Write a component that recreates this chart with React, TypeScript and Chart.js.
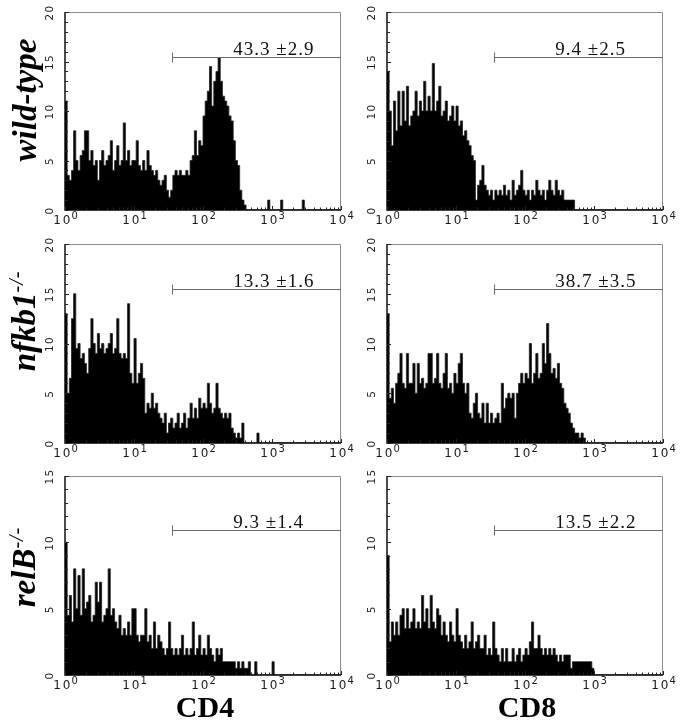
import React, { useEffect, useRef } from "react";
import { Chart, registerables } from "chart.js";

Chart.register(...registerables);

// ---------------- DATA ----------------
// Histogram channels: 32 channels per decade, 4 decades (10^0 .. 10^4), counts per channel.
const CHANNELS_PER_DECADE = 32;
const DECADES = 4;

const wildTypeCD4 = [
  11, 3.5, 3, 4, 8, 5, 4, 5.5, 6, 8, 8, 5, 6, 4.5, 5, 3, 5, 6, 4.5, 5, 5.5, 7, 4, 5, 6.5, 4.5, 5, 8.8, 5, 6, 4.5, 5,
  5, 7, 4.5, 4, 5, 4, 6, 4.5, 4, 3.5, 4, 3, 2.5, 3, 3.5, 2, 1.3, 2, 3.5, 4, 3.5, 4, 3.5, 3.5, 4, 3.5, 5, 5.5, 8, 5.5, 7, 6.5,
  9.5, 11, 12, 14.5, 10.5, 13, 14, 15.4, 13, 11.5, 11, 10.5, 9.5, 9, 7, 5, 4.5, 2, 1, 0.5, 0, 0, 0, 0, 0, 0, 0, 0, 0, 0, 1, 0,
  0, 0, 0, 0, 1, 0, 0, 0, 0, 0, 0, 0, 0, 0, 1, 0, 0, 0, 0, 0, 0, 0, 0, 0, 0, 0, 0, 0, 0, 0, 0, 0,
];
const wildTypeCD8 = [
  14, 10, 6.5, 11, 8, 12, 8.5, 12, 9, 12.5, 8.5, 9.5, 10, 12, 9.5, 11, 10, 13, 10, 11.5, 10, 14.8, 10, 11, 12.5, 9.5, 10, 11, 9, 9.5, 10.5, 9,
  10.5, 8.5, 9, 7.5, 8, 7, 6.5, 5.5, 5, 1, 2.5, 3, 4.5, 2.5, 2, 1.5, 2, 1, 2, 1.5, 2, 1.5, 2.5, 1.5, 2, 1, 3, 1.5, 2, 2.5, 4, 2,
  1.5, 2, 1, 2, 1.5, 3, 2, 1.5, 2, 1, 2, 3, 2, 1.5, 3, 2, 1.5, 2, 1, 1, 1, 1, 1, 0, 0, 0, 0, 0, 0, 0, 0, 0,
  0, 0, 0, 0, 0, 0, 0, 0, 0, 0, 0, 0, 0, 0, 0, 0, 0, 0, 0, 0, 0, 0, 0, 0, 0, 0, 0, 0, 0, 0, 0, 0,
];
const nfkb1CD4 = [
  13, 5, 6.5, 12.5, 15, 9.5, 10, 8.5, 9, 8, 7, 9.5, 12.5, 10, 9, 11, 9.5, 10, 9, 9.5, 10, 11, 9, 9.5, 12.5, 9, 8.5, 9, 8.5, 14, 7, 6,
  10.5, 6, 7, 8, 6.5, 3, 4, 3.5, 5, 3.5, 4, 3, 2.5, 2, 3, 1, 2, 2.5, 1.5, 2, 3, 1.5, 2, 3, 1.5, 2.5, 4, 2.5, 3.5, 2.5, 4.5, 3.5,
  4, 3.5, 6, 4, 3, 3.5, 6, 3.5, 3, 2.5, 3, 2.5, 3, 1.5, 1, 0.5, 1, 0.5, 2, 0, 0, 0, 0, 0, 0, 1, 0, 0, 0, 0, 0, 0,
  0, 0, 0, 0, 0, 0, 0, 0, 0, 0, 0, 0, 0, 0, 0, 0, 0, 0, 0, 0, 0, 0, 0, 0, 0, 0, 0, 0, 0, 0, 0, 0,
];
const nfkb1CD8 = [
  13, 4.5, 5.5, 4, 6, 7, 9, 6, 5.5, 9, 6, 6, 8, 5, 8, 6, 6.5, 5.5, 6, 9, 9, 6, 6.5, 9, 6, 5.5, 7, 9, 5.5, 6, 5, 7,
  6, 8, 9, 6, 5, 6, 3, 2.5, 4, 5, 3, 2.5, 4, 2, 4, 2, 3, 2, 2.5, 3, 2, 6, 3.5, 4.5, 5, 4.5, 5, 2.5, 5, 6, 7, 6,
  7, 6.5, 10, 6, 7, 9, 6.5, 7, 10, 8, 12, 9, 7, 7.5, 6.5, 8, 6, 5.5, 4, 3.5, 3, 2, 1.5, 1, 1, 0.5, 1, 0.5, 0, 0, 0, 0,
  0, 0, 0, 0, 0, 0, 0, 0, 0, 0, 0, 0, 0, 0, 0, 0, 0, 0, 0, 0, 0, 0, 0, 0, 0, 0, 0, 0, 0, 0, 0, 0,
];
const relBCD4 = [
  10, 4.5, 6, 4, 8, 5, 7.5, 4.5, 8, 5, 5.5, 6, 4, 4.5, 7, 5.5, 7, 4, 4.5, 5, 8, 4.5, 5, 4, 3.5, 4.5, 3, 3.5, 3, 4, 3, 5,
  5, 3, 2.5, 3, 3, 5, 2.5, 3, 2, 4, 2, 3, 2.5, 2, 1.5, 2, 4, 2, 1.5, 2, 1.5, 2, 3, 1.5, 2, 1.5, 2, 4, 1.5, 2, 3, 1.5,
  2, 1.5, 3, 2, 1.5, 1, 2, 1.5, 2, 1, 1, 1, 1, 1, 1, 0.5, 1, 0.5, 1, 0.5, 0.5, 1, 0, 0, 1, 0, 0, 0, 0, 0, 0, 0,
  1, 0, 0, 0, 0, 0, 0, 0, 0, 0, 0, 0, 0, 0, 0, 0, 0, 0, 0, 0, 0, 0, 0, 0, 0, 0, 0, 0, 0, 0, 0, 0,
];
const relBCD8 = [
  9, 2.5, 4, 3, 4, 3, 4.5, 5, 3.5, 5, 3.5, 4, 5, 3.5, 4, 3.5, 6, 4, 5, 3.5, 6, 4, 3.5, 5, 4.5, 3, 4, 3, 2.5, 4, 3, 2.5,
  5, 3, 2.5, 2, 3, 2, 2.5, 4, 2, 2.5, 3, 2, 2, 3, 1.5, 2, 1.5, 4, 2, 1.5, 1, 2, 1, 2, 1, 1, 2, 1, 1.5, 2, 1, 1.5,
  2, 1.5, 2.5, 4, 2, 2, 3, 2, 1.5, 2, 1.5, 2, 1.5, 2, 1.5, 1, 1.5, 1, 1.5, 1.5, 1.5, 0.5, 1, 1, 1, 1, 1, 1, 1, 1, 1, 0.5,
  0, 0, 0, 0, 0, 0, 0, 0, 0, 0, 0, 0, 0, 0, 0, 0, 0, 0, 0, 0, 0, 0, 0, 0, 0, 0, 0, 0, 0, 0, 0, 0,
];

const xTickExponents = ["0", "1", "2", "3", "4"];
const yTicksTop = [0, 5, 10, 15, 20];
const yTicksBottom = [0, 5, 10, 15];

const gateLabels = ["43.3 ±2.9", "9.4 ±2.5", "13.3 ±1.6", "38.7 ±3.5", "9.3 ±1.4", "13.5 ±2.2"];
const gateStartChannel = 35.5; // fluorescence value where the gate marker starts
const gateLevelTop = 15.5;
const gateLevelBottom = 10.9;

const rowLabels = ["wild-type", "nfkb1", "relB"];
const rowSuperscripts = ["", "-/-", "-/-"];
const columnLabels = ["CD4", "CD8"];

// ---------------- LAYOUT ----------------
const COL_LEFT = [65, 387];
const PLOT_W = 276;
const ROW_TOP = [12, 244, 476];
const ROW_H = [198, 199, 199];
const PAD = { left: 50, right: 16, top: 12, bottom: 26 };

type PanelSpec = {
  values: number[];
  yTicks: number[];
  gate: string;
  gateLevel: number;
  left: number;
  top: number;
  height: number;
};

const panelValues = [wildTypeCD4, wildTypeCD8, nfkb1CD4, nfkb1CD8, relBCD4, relBCD8];

const panels: PanelSpec[] = panelValues.map((values, i) => {
  const row = Math.floor(i / 2);
  const col = i % 2;
  return {
    values,
    yTicks: row === 2 ? yTicksBottom : yTicksTop,
    gate: gateLabels[i],
    gateLevel: row === 2 ? gateLevelBottom : gateLevelTop,
    left: COL_LEFT[col],
    top: ROW_TOP[row],
    height: ROW_H[row],
  };
});

const SANS = '"DejaVu Sans", "Liberation Sans", sans-serif';

function Panel({ spec }: { spec: PanelSpec }) {
  const ref = useRef<HTMLCanvasElement | null>(null);
  const W = PLOT_W + PAD.left + PAD.right;
  const H = spec.height + PAD.top + PAD.bottom;

  useEffect(() => {
    const yMax = spec.yTicks[spec.yTicks.length - 1];
    const points = spec.values.map((v, i) => ({ x: i / CHANNELS_PER_DECADE, y: v }));
    points.push({ x: DECADES, y: 0 });

    const axesPlugin = {
      id: "facsAxes",
      afterDatasetsDraw(chart: any) {
        const ctx: CanvasRenderingContext2D = chart.ctx;
        const ca = chart.chartArea;
        const xs = chart.scales.x;
        const ys = chart.scales.y;
        ctx.save();
        // top + right frame (grey, thin)
        ctx.strokeStyle = "#8c8c8c";
        ctx.lineWidth = 1;
        ctx.beginPath();
        ctx.moveTo(ca.left, ca.top + 0.5);
        ctx.lineTo(ca.right - 0.5, ca.top + 0.5);
        ctx.lineTo(ca.right - 0.5, ca.bottom);
        ctx.stroke();
        // left + bottom axes (black)
        ctx.strokeStyle = "#000";
        ctx.lineWidth = 1.4;
        ctx.beginPath();
        ctx.moveTo(ca.left, ca.top);
        ctx.lineTo(ca.left, ca.bottom);
        ctx.lineTo(ca.right, ca.bottom);
        ctx.stroke();

        // y ticks (inward)
        ctx.lineWidth = 1;
        ctx.strokeStyle = "#222";
        for (let v = 0; v <= yMax; v++) {
          const y = Math.round(ys.getPixelForValue(v)) + 0.5;
          const len = v % 5 === 0 ? 4 : 3;
          ctx.beginPath();
          ctx.moveTo(ca.left, y);
          ctx.lineTo(ca.left + len, y);
          ctx.stroke();
        }
        // x ticks (inward, log minor)
        for (let d = 0; d <= DECADES; d++) {
          const xm = Math.round(xs.getPixelForValue(d)) + 0.5;
          ctx.beginPath();
          ctx.moveTo(xm, ca.bottom);
          ctx.lineTo(xm, ca.bottom - 4);
          ctx.stroke();
          if (d < DECADES) {
            for (let k = 2; k <= 9; k++) {
              const x = Math.round(xs.getPixelForValue(d + Math.log10(k))) + 0.5;
              ctx.beginPath();
              ctx.moveTo(x, ca.bottom);
              ctx.lineTo(x, ca.bottom - 2.5);
              ctx.stroke();
            }
          }
        }

        // y labels (rotated)
        ctx.fillStyle = "#1a1a1a";
        ctx.font = "10.5px " + SANS;
        (ctx as any).letterSpacing = "1.2px";
        ctx.textAlign = "center";
        ctx.textBaseline = "alphabetic";
        spec.yTicks.forEach((t) => {
          const y = ys.getPixelForValue(t);
          ctx.save();
          ctx.translate(ca.left - 12, y + 0.6);
          ctx.rotate(-Math.PI / 2);
          ctx.fillText(String(t), 0, 0);
          ctx.restore();
        });

        // x labels 10^n
        ctx.textAlign = "left";
        xTickExponents.forEach((e, i) => {
          const x = xs.getPixelForValue(i);
          ctx.font = "12px " + SANS;
          (ctx as any).letterSpacing = "2px";
          const wb = ctx.measureText("10").width;
          ctx.font = "10px " + SANS;
          (ctx as any).letterSpacing = "0px";
          const we = ctx.measureText(e).width;
          const x0 = x - (wb + we) / 2 + 1;
          ctx.font = "12px " + SANS;
          (ctx as any).letterSpacing = "2px";
          ctx.fillText("10", x0, ca.bottom + 14);
          ctx.font = "10px " + SANS;
          (ctx as any).letterSpacing = "0px";
          ctx.fillText(e, x0 + wb - 1, ca.bottom + 9);
        });

        // gate marker
        const gy = Math.round(ys.getPixelForValue(spec.gateLevel)) + 0.5;
        const gx0 = Math.round(xs.getPixelForValue(Math.log10(gateStartChannel))) + 0.5;
        ctx.strokeStyle = "#6a6a6a";
        ctx.lineWidth = 1;
        ctx.beginPath();
        ctx.moveTo(gx0, gy);
        ctx.lineTo(ca.right, gy);
        ctx.moveTo(gx0, gy - 5);
        ctx.lineTo(gx0, gy + 5);
        ctx.stroke();
        ctx.fillStyle = "#111";
        ctx.font = '19px "Liberation Serif", "Times New Roman", serif';
        (ctx as any).letterSpacing = "1px";
        ctx.textAlign = "left";
        ctx.fillText(spec.gate, xs.getPixelForValue(2.44), gy - 3);
        ctx.restore();
      },
    };

    const chart = new Chart(ref.current as HTMLCanvasElement, {
      type: "line",
      data: {
        datasets: [
          {
            data: points,
            stepped: true,
            fill: "origin",
            backgroundColor: "#000",
            borderColor: "#222",
            borderWidth: 0.8,
            pointRadius: 0,
          } as any,
        ],
      },
      options: {
        responsive: false,
        animation: false,
        events: [],
        layout: { padding: PAD },
        plugins: { legend: { display: false }, tooltip: { enabled: false } },
        scales: {
          x: { type: "linear", min: 0, max: DECADES, display: false },
          y: { type: "linear", min: 0, max: yMax, display: false },
        },
      },
      plugins: [axesPlugin],
    });
    return () => chart.destroy();
  }, []);

  return (
    <canvas
      ref={ref}
      width={W}
      height={H}
      style={{ position: "absolute", left: spec.left - PAD.left, top: spec.top - PAD.top, width: W, height: H }}
    />
  );
}

const ROW_LABEL_POS = [
  { cx: 25, cy: 100 },
  { cx: 24, cy: 321 },
  { cx: 24, cy: 567 },
];

export default function App() {
  useEffect(() => {
    document.body.style.margin = "0";
  }, []);
  return (
    <div style={{ position: "relative", width: 680, height: 720, background: "#fff", overflow: "hidden" }}>
      {panels.map((p, i) => (
        <Panel key={i} spec={p} />
      ))}
      {rowLabels.map((label, i) => (
        <div
          key={label}
          style={{
            position: "absolute",
            left: ROW_LABEL_POS[i].cx,
            top: ROW_LABEL_POS[i].cy,
            transform: "translate(-50%, -50%) rotate(-90deg)",
            whiteSpace: "nowrap",
            font: 'italic bold 33px "Liberation Serif", "Times New Roman", serif',
            lineHeight: "33px",
            color: "#000",
          }}
        >
          {label}
          {rowSuperscripts[i] && (
            <sup style={{ fontSize: "20px", fontWeight: "normal", verticalAlign: "12px", lineHeight: 0, letterSpacing: "1px" }}>
              {rowSuperscripts[i]}
            </sup>
          )}
        </div>
      ))}
      {columnLabels.map((label, i) => (
        <div
          key={label}
          style={{
            position: "absolute",
            left: COL_LEFT[i] + PLOT_W / 2 + 2,
            top: 692,
            transform: "translateX(-50%)",
            whiteSpace: "nowrap",
            font: 'bold 30px "Liberation Serif", "Times New Roman", serif',
            lineHeight: "30px",
            color: "#000",
          }}
        >
          {label}
        </div>
      ))}
    </div>
  );
}
